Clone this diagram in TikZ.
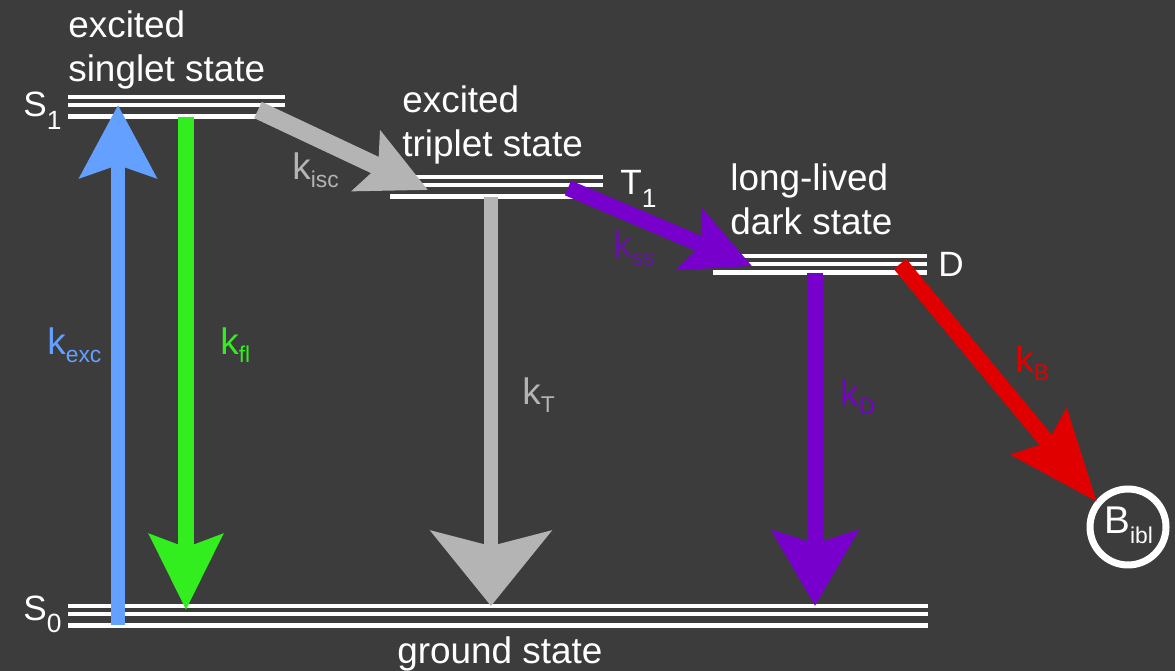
\documentclass[tikz,border=0pt]{standalone}
\usepackage{fontspec}
\setmainfont{Liberation Sans}
\usetikzlibrary{arrows.meta}
\definecolor{bggrey}{RGB}{60,60,60}
\definecolor{excblue}{RGB}{100,160,255}
\definecolor{flgreen}{RGB}{50,238,30}
\definecolor{tgrey}{RGB}{180,180,180}
\definecolor{dpurple}{RGB}{119,0,204}
\definecolor{bred}{RGB}{225,0,0}
\newcommand{\ratesub}[1]{\raisebox{-4.5pt}{\fontsize{13}{13}\selectfont #1}}
\newcommand{\statesub}[1]{\raisebox{-7pt}{\fontsize{15}{15}\selectfont #1}}
\begin{document}
\begin{tikzpicture}[x=0.02cm,y=-0.02cm,
    lvl/.style={white,line width=0.08cm},
    lvlb/.style={white,line width=0.1cm},
    txt/.style={white,font=\fontsize{21}{25.5}\selectfont,inner sep=0,align=left,anchor=north west},
    statelbl/.style={white,font=\fontsize{20}{20}\selectfont,inner sep=0,anchor=base west},
    rate/.style={font=\fontsize{21}{21}\selectfont,inner sep=0,anchor=base west},
    fat/.style={line width=#1cm}]
    \fill[bggrey] (0,0) rectangle (1175,671);
    % levels
    \draw[lvl] (68,97)--(285,97);
    \draw[lvl] (68,105)--(285,105);
    \draw[lvlb] (68,117)--(285,117);
    \draw[lvl] (390,177)--(603,177);
    \draw[lvl] (390,185)--(603,185);
    \draw[lvlb] (390,197)--(603,197);
    \draw[lvl] (713,256)--(927,256);
    \draw[lvl] (713,264)--(927,264);
    \draw[lvlb] (713,273)--(927,273);
    \draw[lvl] (68,606)--(928,606);
    \draw[lvl] (68,614)--(928,614);
    \draw[lvlb] (68,625)--(928,625);
    % state labels
    \node[statelbl] (s1) at (23,117) {S\statesub{1}};
    \node[statelbl] (t1) at (620,195) {T\statesub{1}};
    \node[statelbl] (d) at (938,277) {D};
    \node[statelbl] (s0) at (23,620) {S\statesub{0}};
    \node[txt] (singlet) at (68,10) {excited\\singlet state};
    \node[txt] (triplet) at (402,85) {excited\\triplet state};
    \node[txt] (dark) at (730,163) {long-lived\\dark state};
    \node[txt] (ground) at (397,636) {ground state};
    % bleached state
    \node[draw=white,line width=0.14cm,circle,minimum size=1.52cm,inner sep=0] (bibl) at (1128,527) {};
    \node[white,font=\fontsize{22}{22}\selectfont,inner sep=0,anchor=base west] (btxt) at (1104,533) {B\raisebox{-6pt}{\fontsize{13}{13}\selectfont ibl}};
    % arrow ends
    \coordinate (exc0) at (118,625);
    \coordinate (exc1) at (118,105);
    \coordinate (fl0) at (186,117);
    \coordinate (fl1) at (186,610);
    \coordinate (isc0) at (258,110);
    \coordinate (isc1) at (428,190);
    \coordinate (kt0) at (491,197);
    \coordinate (kt1) at (491,606);
    \coordinate (ss0) at (568,188);
    \coordinate (ss1) at (752,266);
    \coordinate (kd0) at (815,273);
    \coordinate (kd1) at (815,606);
    \coordinate (kb0) at (900,264);
    \coordinate (kb1) at (1097,502);
    % arrows
    \draw[fat=0.28,excblue,-{Stealth[length=1.45cm,width=1.52cm,inset=0.25cm]}] (exc0) -- (exc1);
    \draw[fat=0.32,flgreen,-{Stealth[length=1.5cm,width=1.44cm,inset=0.25cm]}] (fl0) -- (fl1);
    \draw[fat=0.36,tgrey,-{Stealth[length=1.35cm,width=1.3cm,inset=0.25cm]}] (isc0) -- (isc1);
    \draw[fat=0.28,tgrey,-{Stealth[length=1.5cm,width=2.4cm,inset=0.3cm]}] (kt0) -- (kt1);
    \draw[fat=0.32,dpurple,-{Stealth[length=1.35cm,width=1.3cm,inset=0.25cm]}] (ss0) -- (ss1);
    \draw[fat=0.32,dpurple,-{Stealth[length=1.5cm,width=1.7cm,inset=0.25cm]}] (kd0) -- (kd1);
    \draw[fat=0.32,bred,-{Stealth[length=1.8cm,width=1.4cm,inset=0.25cm]}] (kb0) -- (kb1);
    % rate labels
    \node[rate,excblue] (kexc) at (47,355) {k\ratesub{exc}};
    \node[rate,flgreen] (kfl) at (220,355) {k\ratesub{fl}};
    \node[rate,tgrey] (kisc) at (292,180) {k\ratesub{isc}};
    \node[rate,dpurple!70!bggrey] (kss) at (613,258) {k\ratesub{ss}};
    \node[rate,tgrey] (kt) at (522,405) {k\ratesub{T}};
    \node[rate,dpurple] (kd) at (840,407) {k\ratesub{D}};
    \node[rate,bred] (kb) at (1015,373) {k\ratesub{B}};
\end{tikzpicture}
\end{document}
